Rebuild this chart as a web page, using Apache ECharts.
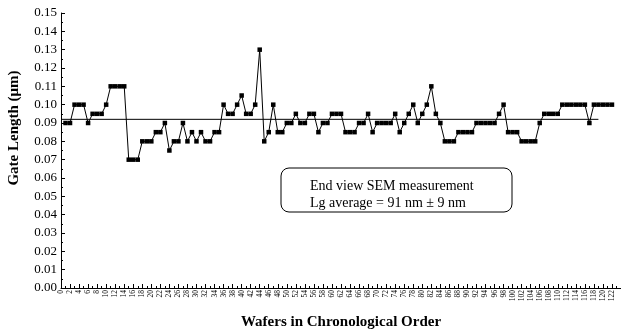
<!DOCTYPE html>
<html lang="en">
<head>
    <meta charset="UTF-8">
    <title>Gate Length</title>
    <script src="https://cdn.jsdelivr.net/npm/echarts@6/dist/echarts.min.js"></script>
</head>
<body style="margin:0">
    <div id="main" style="width:621px;height:331px;"></div>
    <script>
        // gate length per wafer, wafers numbered from 1
        var gateLength = [
            0.09, 0.09, 0.10, 0.10, 0.10, 0.09, 0.095, 0.095, 0.095, 0.10,
            0.11, 0.11, 0.11, 0.11, 0.07, 0.07, 0.07, 0.08, 0.08, 0.08,
            0.085, 0.085, 0.09, 0.075, 0.08, 0.08, 0.09, 0.08, 0.085, 0.08,
            0.085, 0.08, 0.08, 0.085, 0.085, 0.10, 0.095, 0.095, 0.10, 0.105,
            0.095, 0.095, 0.10, 0.13, 0.08, 0.085, 0.10, 0.085, 0.085, 0.09,
            0.09, 0.095, 0.09, 0.09, 0.095, 0.095, 0.085, 0.09, 0.09, 0.095,
            0.095, 0.095, 0.085, 0.085, 0.085, 0.09, 0.09, 0.095, 0.085, 0.09,
            0.09, 0.09, 0.09, 0.095, 0.085, 0.09, 0.095, 0.10, 0.09, 0.095,
            0.10, 0.11, 0.095, 0.09, 0.08, 0.08, 0.08, 0.085, 0.085, 0.085,
            0.085, 0.09, 0.09, 0.09, 0.09, 0.09, 0.095, 0.10, 0.085, 0.085,
            0.085, 0.08, 0.08, 0.08, 0.08, 0.09, 0.095, 0.095, 0.095, 0.095,
            0.10, 0.10, 0.10, 0.10, 0.10, 0.10, 0.09, 0.10, 0.10, 0.10,
            0.10, 0.10
        ];
        var firstWafer = 1;
        var avgValue = 0.092;
        var avgRange = [0, 119];
        var boxLines = ['End view SEM measurement', 'Lg average = 91 nm \u00b1 9 nm'];

        var points = gateLength.map((v, i) => [firstWafer + i, v]);
        var serif = '"Liberation Serif", "Times New Roman", serif';

        var myChart = echarts.init(document.getElementById('main'));
        var option = {
            animation: false,
            grid: { left: 61, right: 0, top: 13, bottom: 43, outerBoundsMode: 'none', containLabel: false },
            xAxis: {
                type: 'value', min: 0, max: 124, interval: 2,
                name: 'Wafers in Chronological Order',
                nameLocation: 'middle', nameGap: 27,
                nameTextStyle: { fontFamily: serif, fontWeight: 'bold', fontSize: 15, color: '#000' },
                axisLine: { onZero: false, lineStyle: { color: '#000', width: 1 } },
                axisTick: { inside: true, length: 4, lineStyle: { color: '#000' } },
                minorTick: { show: true, splitNumber: 2, length: 2, lineStyle: { color: '#000' } },
                splitLine: { show: false },
                axisLabel: {
                    rotate: 90, fontFamily: serif, fontSize: 7.5, color: '#000', margin: 2,
                    formatter: v => v > 122 ? '' : String(v)
                }
            },
            yAxis: {
                type: 'value', min: 0, max: 0.15, interval: 0.01,
                axisLine: { show: true, lineStyle: { color: '#000', width: 1 } },
                axisTick: { inside: true, length: 4, lineStyle: { color: '#000' } },
                minorTick: { show: true, splitNumber: 2, length: 2, lineStyle: { color: '#000' } },
                splitLine: { show: false },
                axisLabel: {
                    fontFamily: serif, fontSize: 13, color: '#000', margin: 4,
                    formatter: v => v.toFixed(2)
                }
            },
            graphic: [
                {
                    type: 'text', x: 14, y: 128, rotation: Math.PI / 2,
                    style: {
                        text: 'Gate Length (\u03bcm)', font: 'bold 15px ' + serif,
                        fill: '#000', align: 'center', verticalAlign: 'middle'
                    }
                },
                {
                    type: 'rect', shape: { x: 281, y: 168, width: 231, height: 44, r: 8 },
                    style: { fill: '#fff', stroke: '#000', lineWidth: 1 }
                },
                {
                    type: 'text', x: 310, y: 186,
                    style: { text: boxLines[0], font: '14px ' + serif, fill: '#000', verticalAlign: 'middle' }
                },
                {
                    type: 'text', x: 310, y: 203,
                    style: { text: boxLines[1], font: '14px ' + serif, fill: '#000', verticalAlign: 'middle' }
                }
            ],
            series: [
                {
                    type: 'line',
                    data: avgRange.map(x => [x, avgValue]),
                    symbol: 'none',
                    lineStyle: { color: '#000', width: 1 },
                    silent: true
                },
                {
                    type: 'line',
                    data: points,
                    symbol: 'rect', symbolSize: 4.5,
                    itemStyle: { color: '#000' },
                    lineStyle: { color: '#000', width: 1 }
                }
            ]
        };
        option && myChart.setOption(option);
    </script>
</body>
</html>
